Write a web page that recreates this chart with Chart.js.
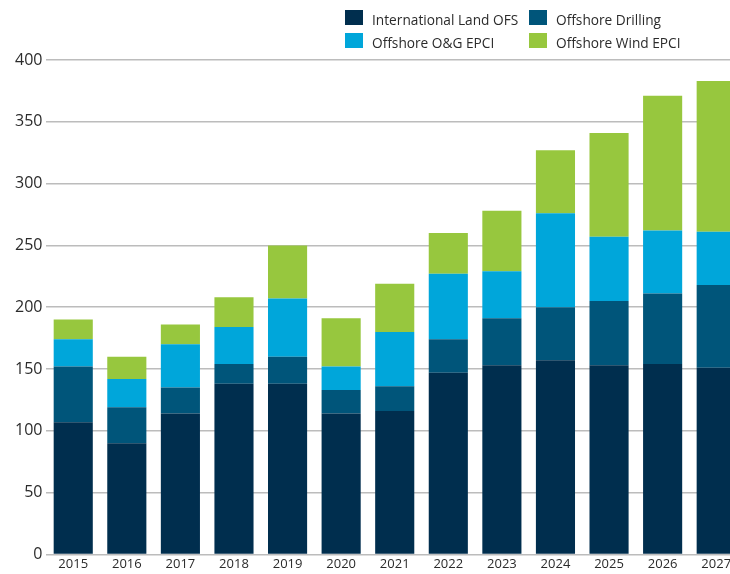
<!DOCTYPE html>
<html>
<head>
<meta charset="utf-8">
<script src="https://cdn.jsdelivr.net/npm/chart.js@4"></script>
<style>
  html, body { margin: 0; padding: 0; background: #fff; overflow: hidden; }
  #wrap { position: relative; width: 745px; height: 574px; }
  .legend { position: absolute; left: 0; top: 0; font-family: "Open Sans", sans-serif; font-size: 13.7px; color: #2b2b2b; }
  .legend span.box { position: absolute; width: 18px; height: 15px; }
  .legend span.lbl { position: absolute; white-space: nowrap; line-height: 16px; }
</style>
</head>
<body>
<div id="wrap">
  <canvas id="myChart" width="745" height="574"></canvas>
  <div class="legend" id="legend"></div>
</div>
<script>
  // years on the x axis
  var years = ["2015", "2016", "2017", "2018", "2019", "2020", "2021", "2022", "2023", "2024", "2025", "2026", "2027"]

  // series values
  var landOfs      = [107,  90, 114, 138, 138, 114, 116, 147, 153, 157, 153, 154, 151]
  var offDrilling  = [ 45,  29,  21,  16,  22,  19,  20,  27,  38,  43,  52,  57,  67]
  var offOgEpci    = [ 22,  23,  35,  30,  47,  19,  44,  53,  38,  76,  52,  51,  43]
  var offWindEpci  = [ 16,  18,  16,  24,  43,  39,  39,  33,  49,  51,  84, 109, 122]

  var yTicks = [0, 50, 100, 150, 200, 250, 300, 350, 400]

  var seriesNames  = ["International Land OFS", "Offshore Drilling", "Offshore O&G EPCI", "Offshore Wind EPCI"]
  var seriesColors = ["#002e4e", "#00557a", "#00a6da", "#97c73e"]
  var seriesData   = [landOfs, offDrilling, offOgEpci, offWindEpci]

  // legend in a 2x2 grid, top right
  var legendPos = [[345, 10], [529, 10], [345, 33], [529, 33]]
  var legend = document.getElementById("legend")
  seriesNames.forEach(function(name, i){
    var box = document.createElement("span")
    box.className = "box"
    box.style.left = legendPos[i][0] + "px"
    box.style.top = legendPos[i][1] + "px"
    box.style.background = seriesColors[i]
    legend.appendChild(box)
    var lbl = document.createElement("span")
    lbl.className = "lbl"
    lbl.textContent = name
    lbl.style.left = (legendPos[i][0] + 27) + "px"
    lbl.style.top = (legendPos[i][1] + 2) + "px"
    legend.appendChild(lbl)
  })

  var ctx = document.getElementById('myChart').getContext('2d');
  var myChart = new Chart(ctx, {
    type: 'bar',
    data: {
      labels: years,
      datasets: seriesData.map(function(values, i){
        return {
          label: seriesNames[i],
          data: values,
          backgroundColor: seriesColors[i],
          borderWidth: 0,
          categoryPercentage: 1,
          barPercentage: 0.73
        }
      })
    },
    options: {
      responsive: false,
      animation: false,
      layout: { padding: { top: 60, left: 11, right: 2, bottom: 0 } },
      plugins: {
        legend: { display: false },
        tooltip: { enabled: false }
      },
      scales: {
        x: {
          stacked: true,
          grid: { display: false, drawTicks: false },
          border: { display: false },
          ticks: {
            color: '#2b2b2b',
            padding: 2,
            font: { family: 'Open Sans', size: 13 }
          }
        },
        y: {
          stacked: true,
          min: 0,
          max: 400,
          afterBuildTicks: function(axis){
            axis.ticks = yTicks.map(function(v){ return { value: v } })
          },
          grid: { color: '#bcbcbc', lineWidth: 1.5, drawTicks: false },
          border: { display: false },
          ticks: {
            color: '#2b2b2b',
            padding: 4,
            font: { family: 'Open Sans', size: 16 }
          }
        }
      }
    }
  });
</script>
</body>
</html>
